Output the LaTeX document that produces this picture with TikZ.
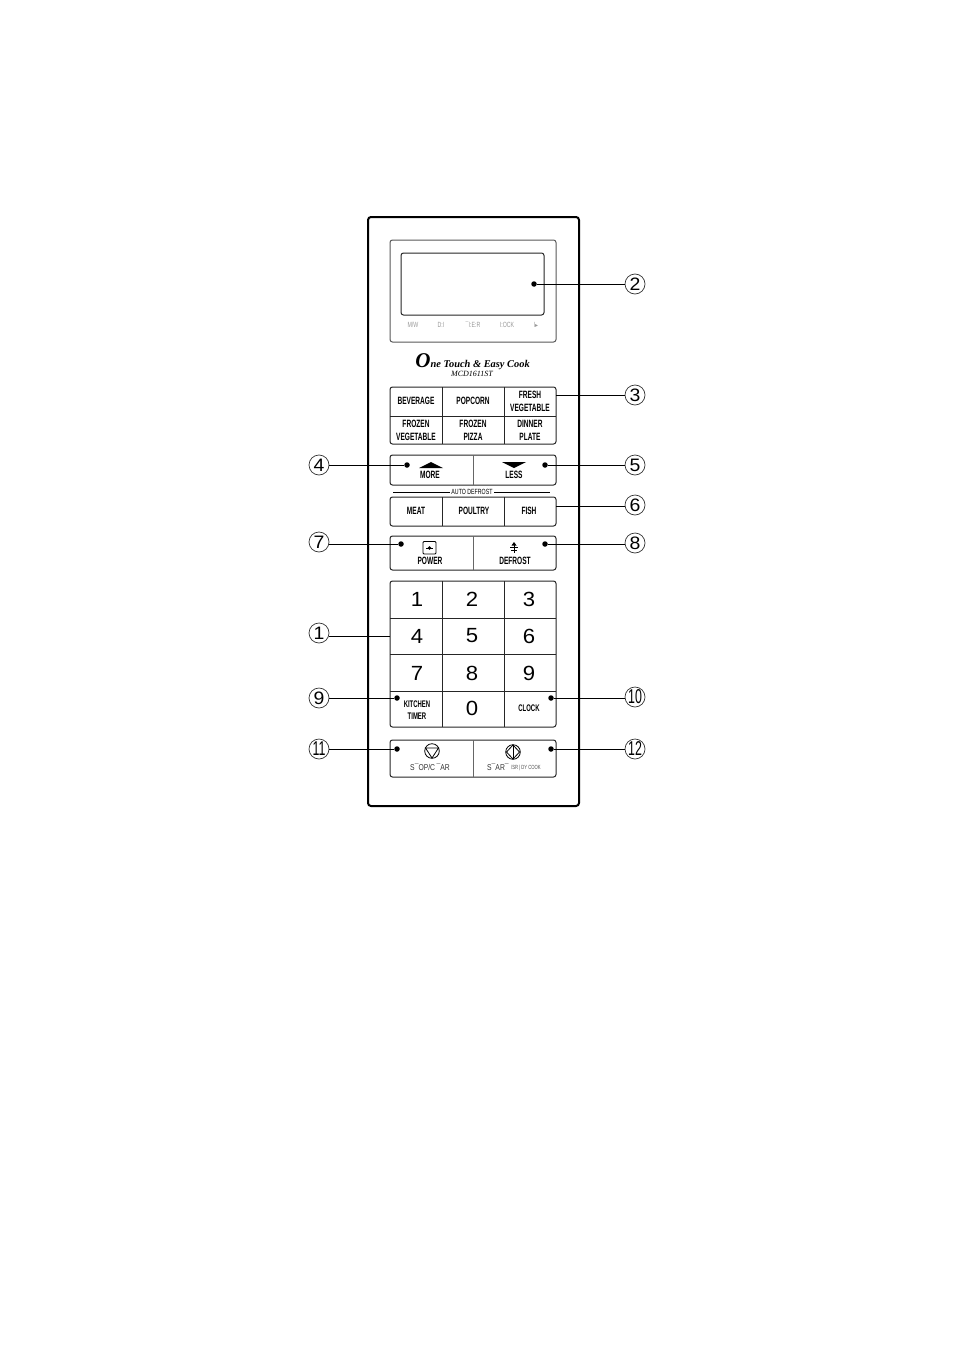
\documentclass[tikz,border=0pt]{standalone}
\usepackage{fontspec}
\setmainfont{Liberation Sans}
\newfontfamily\narrowb[FakeStretch=0.62]{Liberation Sans Bold}
\newfontfamily\narrowr[FakeStretch=0.8]{Liberation Sans}
\newfontfamily\narrowc[FakeStretch=0.62]{Liberation Sans}
\newfontfamily\tinyr[FakeStretch=0.7]{Liberation Sans}
\newfontfamily\widenum[FakeStretch=1.08]{Liberation Sans}
\newfontfamily\logofont{Liberation Serif Bold Italic}
\newfontfamily\logoreg{Liberation Serif Italic}
\newfontfamily\symb{DejaVu Sans}
\usetikzlibrary{calc}
\tikzset{
  panel/.style={draw=black!85,line width=1pt,rounded corners=2.5pt},
  outerpanel/.style={draw=black,line width=2pt,rounded corners=3pt},
  greypanel/.style={draw=black!65,line width=1pt,rounded corners=2.5pt},
  divider/.style={draw=black!85,line width=0.9pt},
  softdivider/.style={draw=black!60,line width=1pt},
  lead/.style={draw=black,line width=0.9pt},
  keylab/.style={font=\narrowb\fontsize{10.6}{11}\selectfont,inner sep=0pt,text=black,align=center},
  smalllab/.style={font=\narrowb\fontsize{9.6}{10}\selectfont,inner sep=0pt,align=center},
  numkey/.style={font=\widenum\fontsize{20.5}{22}\selectfont,inner sep=0pt},
  callout/.style={circle,draw=black!80,line width=0.7pt,minimum size=20pt,inner sep=0pt,font=\widenum\fontsize{18}{20}\selectfont,fill=white},
  calloutw/.style={callout,font=\narrowc\fontsize{20}{20}\selectfont},
  dot/.style={circle,fill=black,minimum size=5.5pt,inner sep=0pt},
  faint/.style={font=\tinyr\fontsize{7.5}{8}\selectfont,inner sep=0pt,text=black!40},
  thin label/.style={font=\narrowr\fontsize{8.5}{9}\selectfont,inner sep=0pt,text=black!80},
}
\begin{document}
\begin{tikzpicture}[x=1pt,y=-1pt]
\useasboundingbox[fill=white] (0,0) rectangle (954,1351);
% body
\path[outerpanel] (368,217) rectangle (579,806);
% display
\path[greypanel] (390,240) rectangle (556,342);
\path[panel] (401,253) rectangle (544,315);
\node[faint] (l1) at (413,325) {M/W};
\node[faint] (l2) at (441,325) {D:I};
\node[faint] (l3) at (473,325) {¯I:E:R};
\node[faint] (l4) at (507,325) {I:OCK};
\node[faint] (l5) at (536,325) {I{\symb\fontsize{6}{7}\selectfont ▸}};
% logo
\node[inner sep=0pt,anchor=base,font=\logofont\fontsize{21}{21}\selectfont] (logoO) at (423,367) {O};
\node[inner sep=0pt,anchor=base west,font=\logofont\fontsize{10.4}{11}\selectfont] (logoT) at (430.5,367) {ne Touch \& Easy Cook};
\node[inner sep=0pt,font=\logoreg\fontsize{8}{9}\selectfont] (logoM) at (472,373.5) {MCD1611ST};
% auto menu
\path[panel] (390,387) rectangle (556,444);
\draw[divider] (390,416) -- (556,416);
\draw[divider] (442,387) -- (442,444) (504,387) -- (504,444);
\node[keylab] (k1) at (416,401) {BEVERAGE};
\node[keylab] (k2) at (473,401) {POPCORN};
\node[keylab] (k3) at (530,401.5) {FRESH\\[1.8pt]VEGETABLE};
\node[keylab] (k4) at (416,430) {FROZEN\\[1.8pt]VEGETABLE};
\node[keylab] (k5) at (473,430) {FROZEN\\[1.8pt]PIZZA};
\node[keylab] (k6) at (530,430) {DINNER\\[1.8pt]PLATE};
% more less
\path[panel] (390,455) rectangle (556,485);
\draw[softdivider] (473,455) -- (473,485);
\fill (419,468) -- (431,462) -- (443,468) -- cycle;
\fill (502,462) -- (526,462) -- (514,468) -- cycle;
\node[keylab] (more) at (430,474.5) {MORE};
\node[keylab] (less) at (514,474.5) {LESS};
% auto defrost
\node[inner sep=0pt,font=\tinyr\fontsize{7.5}{8}\selectfont] (ad) at (472,492) {AUTO DEFROST};
\coordinate (adl) at (393,492);
\coordinate (adm) at (450,492);
\coordinate (adn) at (494,492);
\coordinate (adr) at (550,492);
\draw[line width=0.8pt] (adl) -- (adm);
\draw[line width=0.8pt] (adn) -- (adr);
\path[panel] (390,497) rectangle (556,526);
\draw[divider] (442,497) -- (442,526) (504,497) -- (504,526);
\node[keylab] (meat) at (416,511) {MEAT};
\node[keylab] (poultry) at (474,511) {POULTRY};
\node[keylab] (fish) at (529,511) {FISH};
% power defrost
\path[panel] (390,536) rectangle (556,570);
\draw[softdivider] (473,536) -- (473,570);
\draw[line width=0.8pt,rounded corners=1pt] (423,541.5) rectangle (436,554);
\fill (426,547.5) -- (433,547.5) -- (433,548.5) -- (426,548.5) -- cycle;
\fill (429.5,548) circle (1.8);
\draw[line width=0.9pt] (514,543) -- (514,553) (510,547) -- (518,547) (511,550) -- (517,550);
\fill (511.5,545.5) -- (514,542) -- (516.5,545.5) -- cycle;
\node[keylab] (power) at (430,561) {POWER};
\node[keylab] (defrost) at (515,561) {DEFROST};
% keypad
\path[panel] (390,581) rectangle (556,727);
\draw[divider] (390,618) -- (556,618) (390,654) -- (556,654) (390,691) -- (556,691);
\draw[divider] (442,581) -- (442,727) (504,581) -- (504,727);
\node[numkey] (n1) at (417,599.5) {1};
\node[numkey] (n2) at (472,599.5) {2};
\node[numkey] (n3) at (529,599.5) {3};
\node[numkey] (n4) at (417,636) {4};
\node[numkey] (n5) at (472,636) {5};
\node[numkey] (n6) at (529,636) {6};
\node[numkey] (n7) at (417,673) {7};
\node[numkey] (n8) at (472,673) {8};
\node[numkey] (n9) at (529,673) {9};
\node[numkey] (n0) at (472,708) {0};
\node[smalllab] (kt) at (417,710) {KITCHEN\\[2.6pt]TIMER};
\node[smalllab] (clock) at (529,708) {CLOCK};
% stop start
\path[panel] (390,740) rectangle (556,777);
\draw[softdivider] (473,740) -- (473,777);
\draw[line width=0.8pt] (432,751) circle (7.3);
\draw[line width=0.8pt] (425.5,748) -- (438.5,748) -- (432,758) -- cycle;
\draw[line width=0.8pt] (513,752) circle (7.3);
\draw[line width=0.8pt] (513,745) -- (519.5,752) -- (513,759) -- (506.5,752) -- cycle;
\draw[line width=0.8pt] (513,745) -- (513,759);
\node[thin label] (stop) at (430,767) {S¯OP/C\,¯AR};
\node[thin label,anchor=west] (start) at (487,767) {S¯AR¯};
\node[inner sep=0pt,anchor=west,font=\tinyr\fontsize{6}{6}\selectfont,text=black!70] (start2) at (511,768) {/SR\,|\,DY COOK};
% dots
\node[dot] (d2) at (534,284) {};
\node[dot] (d4) at (407,465) {};
\node[dot] (d5) at (545,465) {};
\node[dot] (d7) at (401,544) {};
\node[dot] (d8) at (545,544) {};
\node[dot] (d9) at (397,698) {};
\node[dot] (d10) at (551,698) {};
\node[dot] (d11) at (397,749) {};
\node[dot] (d12) at (551,749) {};
\coordinate (e3) at (556,395);
\coordinate (e6) at (556,506);
\coordinate (e1) at (390,636);
% callouts
\node[callout] (c1) at (319,633) {1};
\node[callout] (c2) at (635,284) {2};
\node[callout] (c3) at (635,395) {3};
\node[callout] (c4) at (319,465) {4};
\node[callout] (c5) at (635,465) {5};
\node[callout] (c6) at (635,505) {6};
\node[callout] (c7) at (319,542) {7};
\node[callout] (c8) at (635,543) {8};
\node[callout] (c9) at (319,698) {9};
\node[calloutw] (c10) at (635,697) {10};
\node[calloutw] (c11) at (319,749) {11};
\node[calloutw] (c12) at (635,749) {12};
% leaders
\draw[lead] (c2.west |- d2) -- (d2);
\draw[lead] (c3.west |- e3) -- (e3);
\draw[lead] (c4.east |- d4) -- (d4);
\draw[lead] (c5.west |- d5) -- (d5);
\draw[lead] (c6.west |- e6) -- (e6);
\draw[lead] (c7.east |- d7) -- (d7);
\draw[lead] (c8.west |- d8) -- (d8);
\draw[lead] (c1.east |- e1) -- (e1);
\draw[lead] (c9.east |- d9) -- (d9);
\draw[lead] (c10.west |- d10) -- (d10);
\draw[lead] (c11.east |- d11) -- (d11);
\draw[lead] (c12.west |- d12) -- (d12);
\end{tikzpicture}
\end{document}
